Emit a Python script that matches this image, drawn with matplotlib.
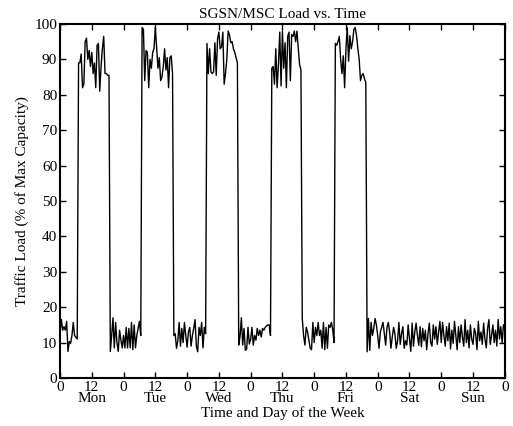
import numpy as np
import matplotlib
matplotlib.use("Agg")
import matplotlib.pyplot as plt

plt.rcParams['font.family'] = ['Liberation Serif', 'DejaVu Serif']

# Traffic load (% of max capacity), sampled every 30 minutes, Monday 00:00 .. Sunday 23:30
mon = [12.6, 16.5, 13.5, 14.5, 13.5, 16, 7.5, 10.3, 9.8, 12, 15.7, 12, 11.5, 11,
       89, 89, 91.5, 82, 83, 95, 96, 90, 92.5, 88, 92, 86, 89, 82, 94, 94.5, 81, 88,
       93, 96.5, 86, 86, 85.5, 85.5,
       7.5, 12, 17, 8.5, 15.7, 10, 7.5, 13.5, 10.7, 8.5]
tue = [12, 8.5, 14.3, 8.5, 14, 8.5, 15.7, 8, 15, 8.5, 12, 14, 16, 12,
       99, 98.5, 84, 92.5, 92, 82, 90, 87.5, 92, 93, 99, 93, 87.5, 90.5, 84, 85,
       88, 93, 87, 90.5, 82, 90.5, 91, 86,
       12, 12.5, 8.4, 10.5, 15.7, 9, 14, 10, 15.7, 12]
wed = [8.7, 13, 14.3, 9, 12, 14, 16.5, 9, 7.4, 14.3, 12, 15.7, 8.5, 14.3, 12.5,
       94.5, 86, 93, 86.5, 86, 86.5, 94.7, 85.5, 95.8, 97.7, 93, 93.5, 97.7, 83, 86,
       90, 98, 97, 94.7, 95, 93, 92, 90.5, 89,
       9.3, 11.8, 17, 9.3, 14, 7.8, 8.2, 14.3, 9.6]
thu = [10.9, 14.3, 9.3, 12, 10.7, 14, 12, 13.5, 11.6, 14, 13.5, 14.3, 14.7, 15, 15, 12,
       87.5, 88, 83, 93, 82, 88.5, 97.7, 82.5, 98, 87.5, 94.7, 82, 96.5, 97.7, 84,
       97, 96.5, 98, 95, 98, 93, 88.5, 87,
       16.8, 12, 9.3, 14.3, 13, 10.7, 8.4, 8, 15.7]
fri = [10, 14.3, 12, 15.7, 12, 13.5, 8.4, 15.7, 8, 14.3, 8.4, 15, 14.3, 15.7, 13.7, 10,
       94.5, 94, 95, 96.5, 90, 86, 91, 82, 93, 99, 89.5, 96.7, 93, 95, 98.5, 99,
       96.7, 93, 90, 84, 85.5, 86, 84.5, 83.5,
       7.4, 16.8, 7.8, 15.7, 12, 14, 16.8, 15]
sat = [12, 8.4, 13, 14.3, 15.7, 12.5, 9.3, 14.3, 15.7, 13, 8.4, 11.6, 14.3, 12.5, 8.4,
       10.5, 15.7, 9.5, 12.5, 14.5, 8.4, 10.5, 9.3, 15, 11, 7.5, 15.5, 9, 13, 15.5,
       12, 9.2, 14.5, 8.8, 14, 10.5, 13.5, 8, 12.5, 15.5, 10, 9, 15, 11, 14.5, 9.5, 13, 16]
sun = [10, 15.7, 12, 9, 14.5, 10.5, 15.5, 8.2, 13.5, 9.8, 16, 12, 8, 14.5, 10,
       15, 11.5, 9, 16.5, 10, 13.5, 8.5, 15, 11, 9.5, 14, 12.5, 8, 16, 10.5,
       13, 9.5, 15.5, 11, 8.5, 14, 16.5, 9.5, 12, 15, 10, 13.5, 9, 16.5, 11, 14.5, 10, 15]

days = ["Mon", "Tue", "Wed", "Thu", "Fri", "Sat", "Sun"]
x_ticks = list(range(0, 169, 12))
x_ticklabels = []
for i, t in enumerate(x_ticks):
    if i % 2 == 0:
        x_ticklabels.append("0\n")
    else:
        x_ticklabels.append("12\n" + days[i // 2])
y_ticks = list(range(0, 101, 10))

load = []
for d in (mon, tue, wed, thu, fri, sat, sun):
    assert len(d) == 48
    load.extend(d)
load = np.array(load)
hours = np.arange(len(load)) * 0.5

fig = plt.figure(figsize=(5.13, 4.26), dpi=100)
ax = fig.add_axes([0.117, 0.1127, 0.867, 0.831])
ax.plot(hours, load, color='black', linewidth=1.0)
ax.set_xlim(0, 168)
ax.set_ylim(0, 100)
ax.set_xticks(x_ticks)
ax.set_xticklabels(x_ticklabels, fontsize=11, linespacing=0.85)
ax.set_yticks(y_ticks)
ax.tick_params(axis='both', direction='in', top=True, right=True, length=4,
               width=1, labelsize=11, pad=2)
for s in ax.spines.values():
    s.set_linewidth(1.5)
ax.set_title("SGSN/MSC Load vs. Time", fontsize=11, pad=4)
ax.set_xlabel("Time and Day of the Week", fontsize=11, labelpad=1)
ax.set_ylabel("Traffic Load (% of Max Capacity)", fontsize=11, labelpad=4)
fig.savefig("out.png", dpi=100)
